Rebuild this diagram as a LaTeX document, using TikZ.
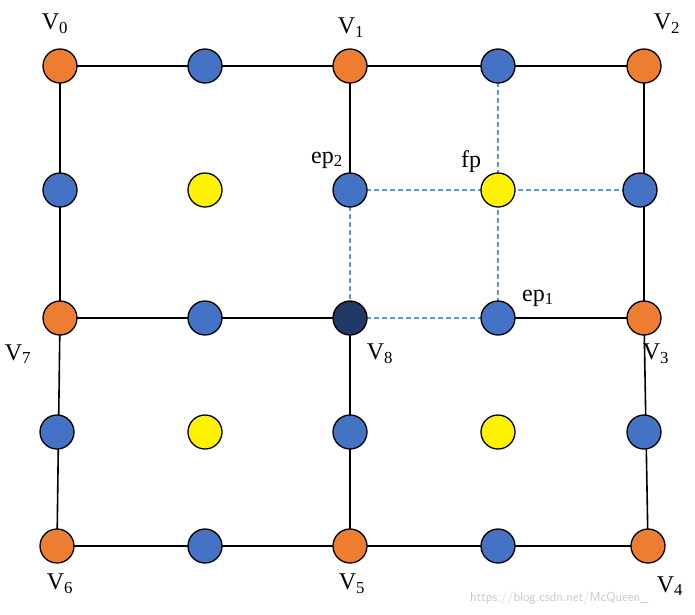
\documentclass[tikz,border=0pt]{standalone}
\usepackage{fontspec}
\setmainfont{Liberation Serif}
\newcommand{\sbs}[1]{\textsubscript{#1}}
\begin{document}
\begin{tikzpicture}[x=1pt,y=-1pt,
  pt/.style={circle,draw=black,line width=1.3pt,minimum size=34pt,inner sep=0pt},
  org/.style={pt,fill={rgb,255:red,237;green,125;blue,49}},
  blu/.style={pt,fill={rgb,255:red,68;green,114;blue,196}},
  yel/.style={pt,fill=yellow},
  drk/.style={pt,fill={rgb,255:red,31;green,56;blue,100}},
  ln/.style={line width=1.6pt},
  dsh/.style={line width=1.8pt,dash pattern=on 5pt off 3pt,draw={rgb,255:red,91;green,155;blue,213}},
  lb/.style={font=\fontsize{24}{28}\selectfont}]
\useasboundingbox (0,0) rectangle (695,614);
\coordinate (p00) at (60,66);  \coordinate (p10) at (205,66); \coordinate (p20) at (350,66); \coordinate (p30) at (498,66); \coordinate (p40) at (644,66);
\coordinate (p01) at (60,190); \coordinate (p11) at (205,190);\coordinate (p21) at (350,190);\coordinate (p31) at (498,190);\coordinate (p41) at (640,190);
\coordinate (p02) at (60,318); \coordinate (p12) at (205,318);\coordinate (p22) at (350,318);\coordinate (p32) at (498,318);\coordinate (p42) at (644,318);
\coordinate (p03) at (57,432); \coordinate (p13) at (205,432);\coordinate (p23) at (350,432);\coordinate (p33) at (498,432);\coordinate (p43) at (644,432);
\coordinate (p04) at (57,546); \coordinate (p14) at (205,546);\coordinate (p24) at (350,546);\coordinate (p34) at (498,546);\coordinate (p44) at (648,546);
\draw[ln] (p00)--(p40)--(p42)--(p44)--(p04)--(p02)--(p00);
\draw[ln] (p02)--(p22); \draw[ln] (p32)--(p42);
\draw[ln] (p20)--(p21); \draw[ln] (p22)--(p24);
\draw[dsh] (p21)--(p41); \draw[dsh] (p30)--(p32);
\draw[dsh] (p21)--(p22)--(p32);
\node[org] (V0) at (p00) {}; \node[blu] (a1) at (p10) {}; \node[org] (V1) at (p20) {}; \node[blu] (a2) at (p30) {}; \node[org] (V2) at (p40) {};
\node[blu] (b0) at (p01) {}; \node[yel] (b1) at (p11) {}; \node[blu] (ep2) at (p21) {}; \node[yel] (fp) at (p31) {}; \node[blu] (b4) at (p41) {};
\node[org] (V7) at (p02) {}; \node[blu] (c1) at (p12) {}; \node[drk] (V8) at (p22) {}; \node[blu] (ep1) at (p32) {}; \node[org] (V3) at (p42) {};
\node[blu] (d0) at (p03) {}; \node[yel] (d1) at (p13) {}; \node[blu] (d2) at (p23) {}; \node[yel] (d3) at (p33) {}; \node[blu] (d4) at (p43) {};
\node[org] (V6) at (p04) {}; \node[blu] (e1) at (p14) {}; \node[org] (V5) at (p24) {}; \node[blu] (e3) at (p34) {}; \node[org] (V4) at (p44) {};
\node[lb] (l0) at (55,24) {V\sbs{0}};
\node[lb] (l1) at (351,28) {V\sbs{1}};
\node[lb] (l2) at (667,24) {V\sbs{2}};
\node[lb] (le2) at (327,160) {ep\sbs{2}};
\node[lb] (lf) at (471,162) {fp};
\node[lb] (le1) at (538,298) {ep\sbs{1}};
\node[lb] (l7) at (18,354) {V\sbs{7}};
\node[lb] (l8) at (380,354) {V\sbs{8}};
\node[lb] (l3) at (656,354) {V\sbs{3}};
\node[lb] (l6) at (60,584) {V\sbs{6}};
\node[lb] (l5) at (352,584) {V\sbs{5}};
\node[lb] (l4) at (670,586) {V\sbs{4}};
\node[font=\fontsize{13}{15}\selectfont\sffamily,text={rgb,255:red,200;green,200;blue,200},anchor=east] (wm) at (652,598) {https://blog.csdn.net/McQueen\_};
\end{tikzpicture}
\end{document}
